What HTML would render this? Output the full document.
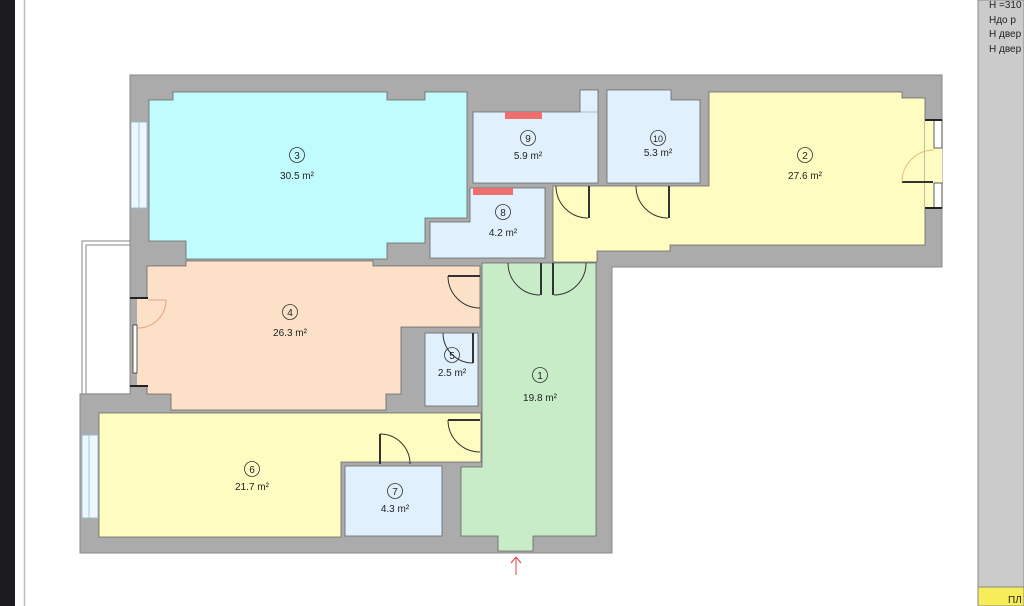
<!DOCTYPE html>
<html><head><meta charset="utf-8"><style>
html,body{margin:0;padding:0;background:#fff;width:1024px;height:606px;overflow:hidden;font-family:"Liberation Sans",sans-serif}
</style></head><body>
<svg width="1024" height="606" viewBox="0 0 1024 606" xmlns="http://www.w3.org/2000/svg" font-family="Liberation Sans, DejaVu Sans, sans-serif">
<rect x="0" y="0" width="15" height="606" fill="#1c1c1e"/>
<line x1="24.5" y1="0" x2="24.5" y2="606" stroke="#bbb" stroke-width="1.5"/>
<!-- right panel -->
<rect x="978" y="0" width="46" height="587" fill="#cbcbcb" stroke="#888" stroke-width="1"/>
<rect x="978" y="587" width="46" height="19" fill="#f7ec5a" stroke="#888" stroke-width="1"/>
<text x="989" y="8" font-size="10" fill="#222">H =310</text>
<text x="989" y="23" font-size="10" fill="#222">Hдо р</text>
<text x="989" y="37" font-size="10" fill="#222">H двер</text>
<text x="989" y="52" font-size="10" fill="#222">H двер</text>
<text x="1008" y="603" font-size="10" fill="#222">ПЛ</text>
<!-- balcony -->
<rect x="82" y="241" width="50" height="153" fill="#fff" stroke="#999" stroke-width="1.2"/>
<rect x="86" y="245" width="46" height="149" fill="none" stroke="#999" stroke-width="1.2"/>
<!-- walls -->
<polygon points="130,75 942,75 942,267 612,267 612,553 80,553 80,394 130,394" fill="#ababab" stroke="#888" stroke-width="1"/>
<!-- windows left -->
<rect x="131" y="122" width="16" height="86" fill="#eef6ff" stroke="#9bc" stroke-width="1"/>
<line x1="139" y1="122" x2="139" y2="208" stroke="#9cd" stroke-width="1"/>
<rect x="82" y="435" width="16" height="83" fill="#eef6ff" stroke="#9bc" stroke-width="1"/>
<line x1="89" y1="435" x2="89" y2="518" stroke="#9cd" stroke-width="1"/>
<!-- room 3 -->
<polygon points="149,100 173,100 173,92 387,92 387,100 425,100 425,92 467,92 467,218 425,218 425,243 387,243 387,259 186,259 186,241 149,241" fill="#c0fcfe" stroke="#666" stroke-width="0.8"/>
<!-- room 4 -->
<polygon points="147,266 186,266 186,261 373,261 373,266 480,266 480,327 401,327 401,394 386,394 386,410 171,410 171,394 147,394" fill="#fde0c8" stroke="#666" stroke-width="0.8"/>
<rect x="137" y="298" width="11" height="88" fill="#fde0c8"/>
<rect x="133" y="325" width="4" height="48" fill="#fff" stroke="#333" stroke-width="0.8"/>
<line x1="130" y1="298" x2="148" y2="298" stroke="#222" stroke-width="2"/>
<line x1="130" y1="386" x2="148" y2="386" stroke="#222" stroke-width="2"/>
<path d="M148,300 L166,300 A28,28 0 0 1 138,328" fill="none" stroke="#e8a080" stroke-width="1"/>
<!-- room 5 -->
<rect x="425" y="333" width="53" height="73" fill="#e0f0fc" stroke="#666" stroke-width="0.8"/>
<!-- room 1 -->
<polygon points="482,263 596,263 596,536 533,536 533,551 498,551 498,536 461,536 461,467 482,467" fill="#c8ecc8" stroke="#666" stroke-width="0.8"/>
<!-- room 6 -->
<polygon points="99,413 481,413 481,462 341,462 341,537 99,537" fill="#fefcc0" stroke="#666" stroke-width="0.8"/>
<!-- room 7 -->
<rect x="345" y="466" width="97" height="70" fill="#e0f0fc" stroke="#666" stroke-width="0.8"/>
<!-- room 8 -->
<polygon points="430,222 470,222 470,188 545,188 545,258 430,258" fill="#e0f0fc" stroke="#666" stroke-width="0.8"/>
<rect x="473" y="188" width="40" height="7" fill="#ef6e6e"/>
<!-- room 9 -->
<polygon points="473,112 580,112 580,90 598,90 598,183 473,183" fill="#e0f0fc" stroke="#666" stroke-width="0.8"/>
<line x1="580" y1="112" x2="598" y2="112" stroke="#888" stroke-width="0.6"/>
<rect x="505" y="112" width="37" height="7" fill="#ef6e6e"/>
<!-- room 10 -->
<polygon points="607,90 671,90 671,100 700,100 700,183 607,183" fill="#e0f0fc" stroke="#666" stroke-width="0.8"/>
<!-- room 2 + corridor -->
<polygon points="709,92 902,92 902,98 925,98 925,245 670,245 670,251 597,251 597,262 553,262 553,186 709,186" fill="#fefcc0" stroke="#666" stroke-width="0.8"/>
<rect x="925" y="120" width="17" height="88" fill="#fefcc0"/>
<rect x="934" y="120" width="8" height="28" fill="#fff" stroke="#333" stroke-width="0.8"/>
<rect x="934" y="183" width="8" height="25" fill="#fff" stroke="#333" stroke-width="0.8"/>
<line x1="925" y1="120" x2="942" y2="120" stroke="#222" stroke-width="2"/>
<line x1="925" y1="208" x2="942" y2="208" stroke="#222" stroke-width="2"/>
<line x1="902" y1="182" x2="933" y2="182" stroke="#333" stroke-width="2"/>
<path d="M902,182 A32,32 0 0 1 934,150" fill="none" stroke="#e0c080" stroke-width="1"/>
<!-- doors -->
<g fill="none" stroke="#333" stroke-width="1">
<path d="M556,186 A32,32 0 0 0 588,218"/><line x1="589" y1="186" x2="589" y2="218" stroke-width="2"/>
<path d="M636,186 A32,32 0 0 0 668,218"/><line x1="669" y1="186" x2="669" y2="218" stroke-width="2"/>
<path d="M508,263 A32,32 0 0 0 540,295"/><line x1="541" y1="263" x2="541" y2="295" stroke-width="2"/>
<path d="M586,263 A32,32 0 0 1 554,295"/><line x1="553" y1="263" x2="553" y2="295" stroke-width="2"/>
<path d="M448,276 A32,32 0 0 0 480,308"/><line x1="448" y1="276" x2="480" y2="276" stroke-width="2"/>
<path d="M448,420 A32,32 0 0 0 480,452"/><line x1="448" y1="420" x2="480" y2="420" stroke-width="2"/>
<path d="M380,434 A30,30 0 0 1 410,464"/><line x1="380" y1="434" x2="380" y2="464" stroke-width="2"/>
<path d="M443,333 A30,30 0 0 0 473,363"/><line x1="473" y1="333" x2="473" y2="363" stroke-width="2"/>
</g>
<!-- labels -->
<g font-size="10" fill="#222" text-anchor="middle">
<circle cx="297" cy="155" r="7.5" fill="none" stroke="#333" stroke-width="0.8"/><text x="297" y="159">3</text><text x="297" y="179">30.5 m²</text>
<circle cx="290" cy="312" r="7.5" fill="none" stroke="#333" stroke-width="0.8"/><text x="290" y="316">4</text><text x="290" y="336">26.3 m²</text>
<circle cx="452" cy="355" r="7.5" fill="none" stroke="#333" stroke-width="0.8"/><text x="452" y="359">5</text><text x="452" y="376">2.5 m²</text>
<circle cx="540" cy="375" r="7.5" fill="none" stroke="#333" stroke-width="0.8"/><text x="540" y="379">1</text><text x="540" y="401">19.8 m²</text>
<circle cx="252" cy="469" r="7.5" fill="none" stroke="#333" stroke-width="0.8"/><text x="252" y="473">6</text><text x="252" y="490">21.7 m²</text>
<circle cx="395" cy="491" r="7.5" fill="none" stroke="#333" stroke-width="0.8"/><text x="395" y="495">7</text><text x="395" y="512">4.3 m²</text>
<circle cx="503" cy="212" r="7.5" fill="none" stroke="#333" stroke-width="0.8"/><text x="503" y="216">8</text><text x="503" y="236">4.2 m²</text>
<circle cx="528" cy="138" r="7.5" fill="none" stroke="#333" stroke-width="0.8"/><text x="528" y="142">9</text><text x="528" y="159">5.9 m²</text>
<circle cx="658" cy="138" r="7.5" fill="none" stroke="#333" stroke-width="0.8"/><text x="658" y="142" font-size="9">10</text><text x="658" y="156">5.3 m²</text>
<circle cx="805" cy="155" r="7.5" fill="none" stroke="#333" stroke-width="0.8"/><text x="805" y="159">2</text><text x="805" y="179">27.6 m²</text>
</g>
<!-- entrance arrow -->
<line x1="516" y1="558" x2="516" y2="575" stroke="#e04040" stroke-width="1"/>
<path d="M511,563 L516,557 L521,563" fill="none" stroke="#e04040" stroke-width="1"/>
</svg>
</body></html>
